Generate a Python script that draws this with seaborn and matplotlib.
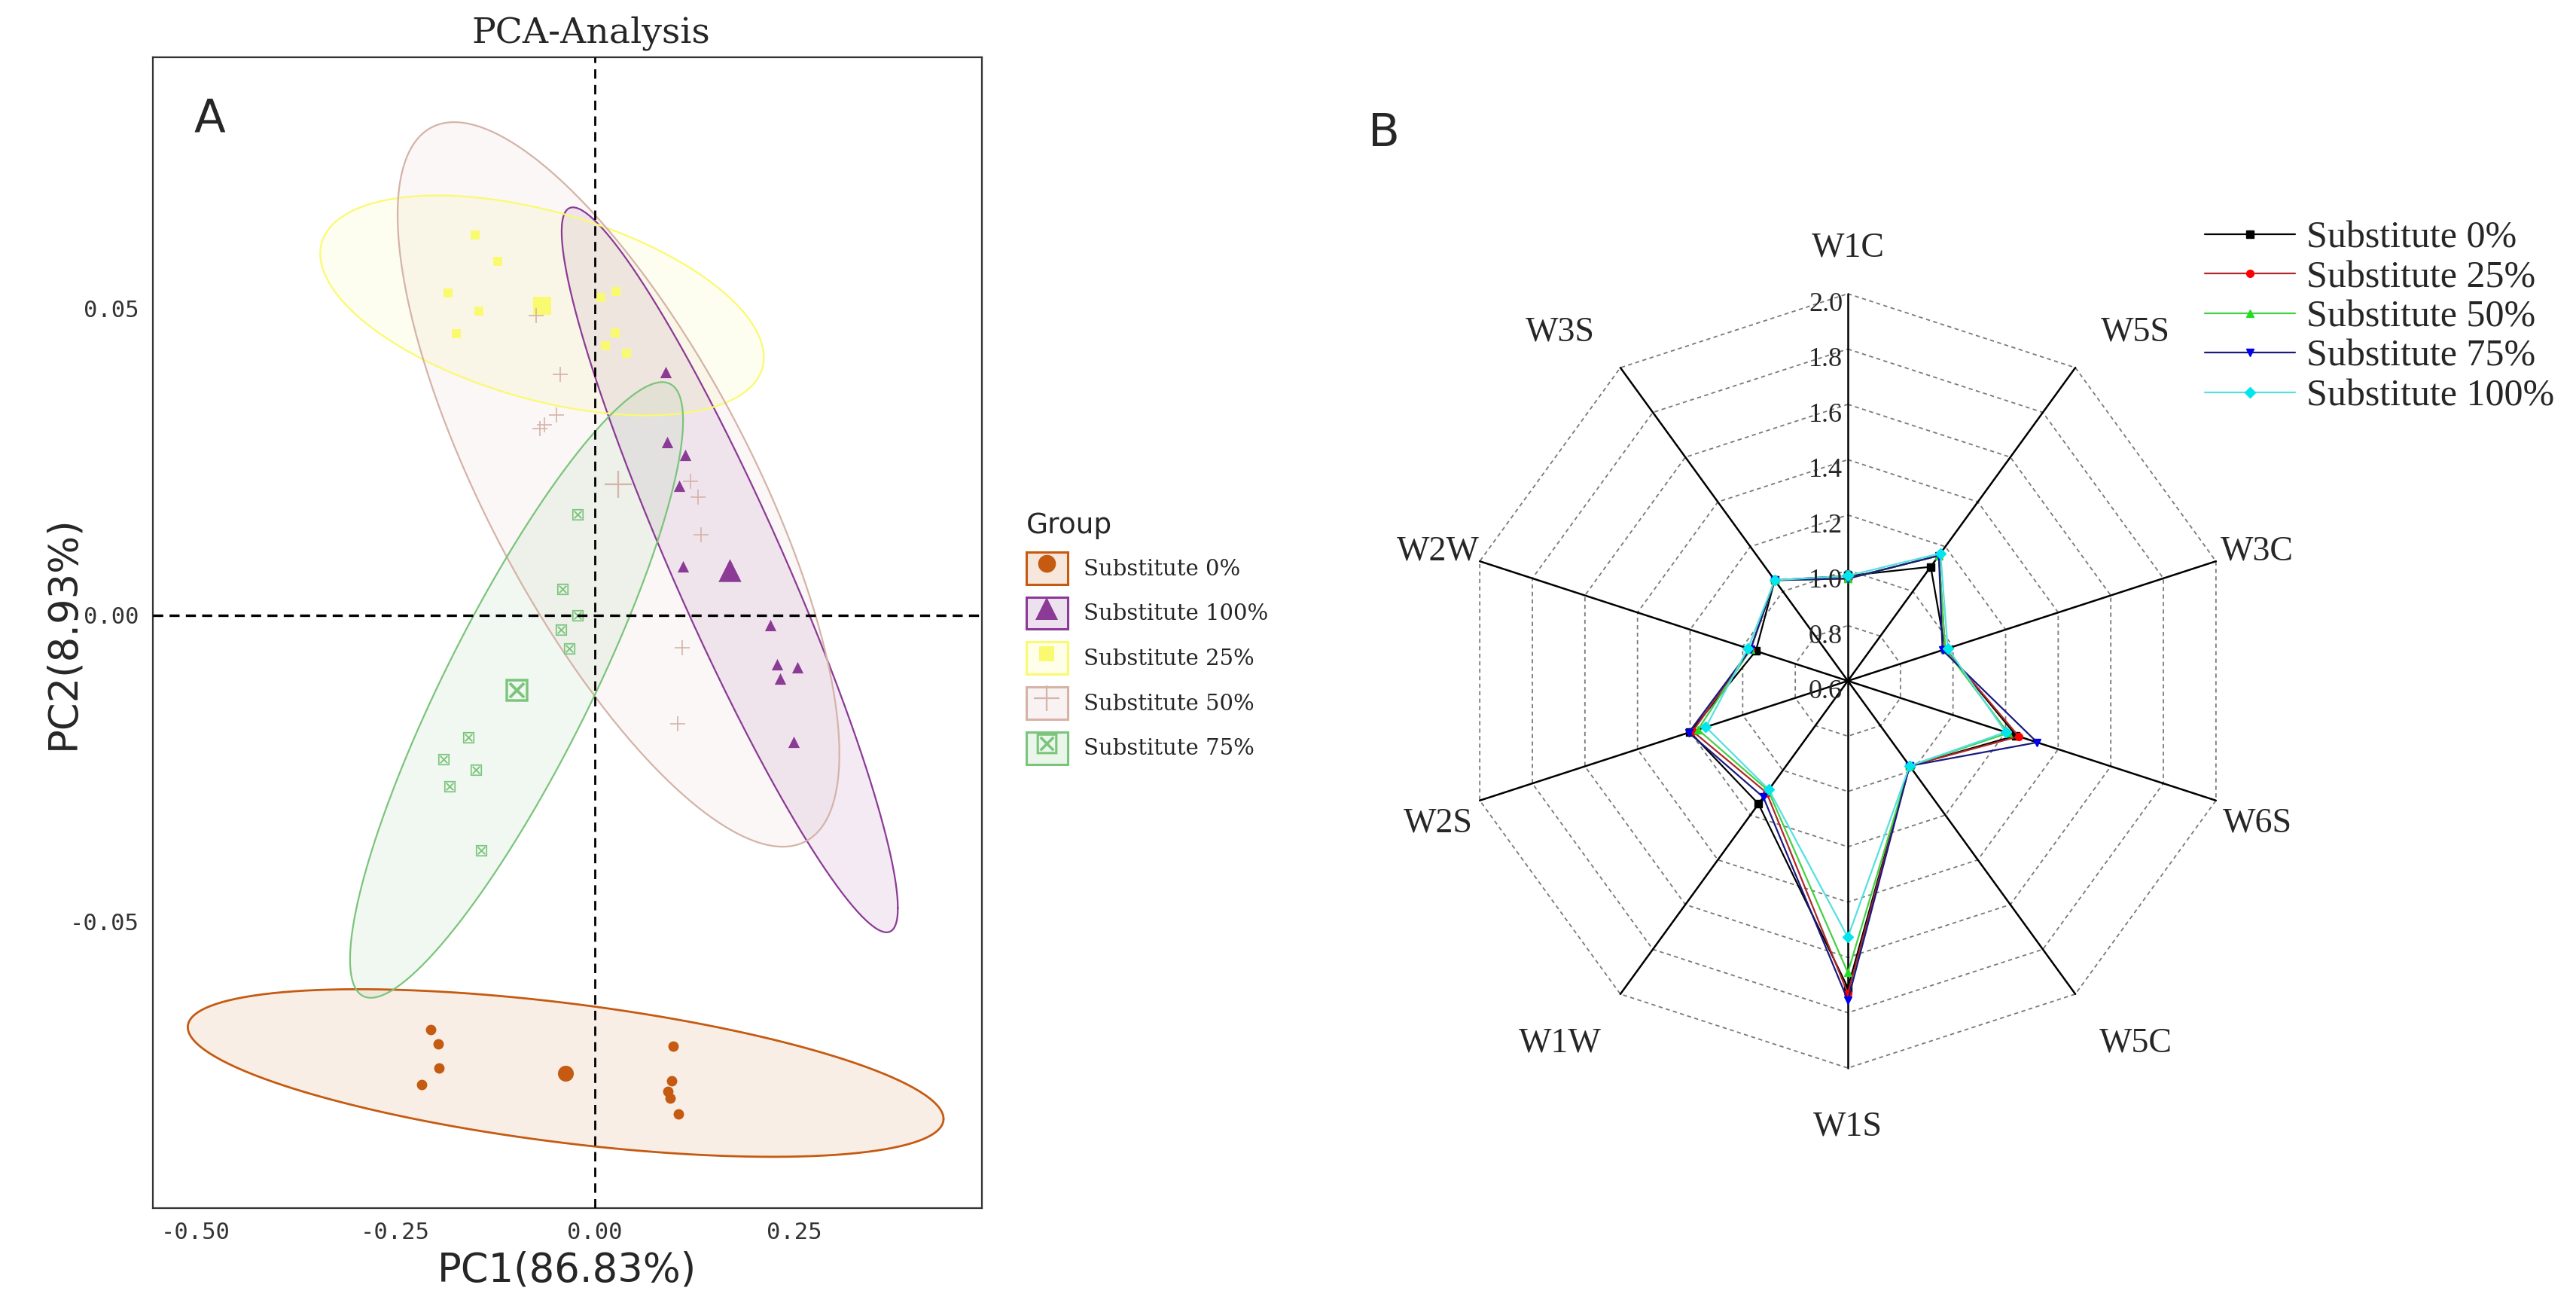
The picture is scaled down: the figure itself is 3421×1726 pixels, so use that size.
import numpy as np
import pandas as pd
import seaborn as sns
import matplotlib
matplotlib.use("Agg")
import matplotlib.pyplot as plt
from matplotlib.patches import Patch
from matplotlib.lines import Line2D
from matplotlib.transforms import offset_copy

# ---------------- data: PCA scores ----------------
groups = ["Substitute 0%", "Substitute 100%", "Substitute 25%",
          "Substitute 50%", "Substitute 75%"]

pc1_s0 = [-0.205, -0.196, -0.195, -0.216, 0.098, 0.097, 0.0915, 0.095, 0.105]
pc2_s0 = [-0.0676, -0.0699, -0.0739, -0.0766, -0.0703, -0.0760, -0.0776, -0.0788, -0.0813]

pc1_s100 = [0.0889, 0.0905, 0.1132, 0.1056, 0.1110, 0.2203, 0.2285, 0.2537, 0.2323, 0.2490]
pc2_s100 = [0.0397, 0.0282, 0.0262, 0.0211, 0.0080, -0.0016, -0.0080, -0.0085, -0.0104, -0.0207]

pc1_s25 = [-0.1496, -0.1212, -0.1836, -0.1448, -0.1726, 0.0268, 0.0079, 0.0259, 0.0133, 0.0401]
pc2_s25 = [0.0620, 0.0577, 0.0526, 0.0496, 0.0459, 0.0528, 0.0518, 0.0461, 0.0440, 0.0427]

pc1_s50 = [-0.0434, -0.0481, -0.0682, -0.0630, -0.0733, 0.1204, 0.1293, 0.1331, 0.1094, 0.1038]
pc2_s50 = [0.0393, 0.0326, 0.0304, 0.0310, 0.0489, 0.0218, 0.0192, 0.0131, -0.0053, -0.0177]

pc1_s75 = [-0.0213, -0.0403, -0.0213, -0.0424, -0.0318, -0.1584, -0.1892, -0.1483, -0.1814, -0.1420]
pc2_s75 = [0.0164, 0.0043, 0.0000, -0.0024, -0.0054, -0.0199, -0.0235, -0.0252, -0.0279, -0.0383]

pc1_label = "PC1(86.83%)"
pc2_label = "PC2(8.93%)"
x_ticks = [-0.50, -0.25, 0.00, 0.25]
y_ticks = [-0.05, 0.00, 0.05]

# ---------------- data: radar (electronic nose sensors) ----------------
sensors = ["W1C", "W5S", "W3C", "W6S", "W5C", "W1S", "W1W", "W2S", "W2W", "W3S"]
radar_series = ["Substitute 0%", "Substitute 25%", "Substitute 50%",
                "Substitute 75%", "Substitute 100%"]
r_s0 = [0.98, 1.11, 0.97, 1.24, 0.98, 1.71, 1.15, 1.20, 0.95, 1.05]
r_s25 = [0.97, 1.16, 0.97, 1.25, 0.98, 1.73, 1.10, 1.19, 0.97, 1.05]
r_s50 = [0.97, 1.16, 0.97, 1.21, 0.98, 1.655, 1.09, 1.17, 0.97, 1.05]
r_s75 = [0.97, 1.16, 0.96, 1.32, 0.98, 1.755, 1.12, 1.205, 0.97, 1.05]
r_s100 = [0.98, 1.17, 0.98, 1.20, 0.98, 1.527, 1.086, 1.14, 0.98, 1.05]
r_ticks = [0.6, 0.8, 1.0, 1.2, 1.4, 1.6, 1.8, 2.0]

pca_df = pd.concat([
    pd.DataFrame({"PC1": pc1_s0, "PC2": pc2_s0, "group": groups[0]}),
    pd.DataFrame({"PC1": pc1_s100, "PC2": pc2_s100, "group": groups[1]}),
    pd.DataFrame({"PC1": pc1_s25, "PC2": pc2_s25, "group": groups[2]}),
    pd.DataFrame({"PC1": pc1_s50, "PC2": pc2_s50, "group": groups[3]}),
    pd.DataFrame({"PC1": pc1_s75, "PC2": pc2_s75, "group": groups[4]}),
], ignore_index=True)

radar_vals = {"Substitute 0%": r_s0, "Substitute 25%": r_s25, "Substitute 50%": r_s50,
              "Substitute 75%": r_s75, "Substitute 100%": r_s100}

# ---------------- styles ----------------
col = {"Substitute 0%": "#C55A11", "Substitute 100%": "#8B3A95",
       "Substitute 25%": "#FAFA70", "Substitute 50%": "#D5B3A8",
       "Substitute 75%": "#7BC47B"}
mk = {"Substitute 0%": "o", "Substitute 100%": "^", "Substitute 25%": "s",
      "Substitute 50%": "+", "Substitute 75%": r"$\boxtimes$"}
pt_size = {"Substitute 0%": 100, "Substitute 100%": 120, "Substitute 25%": 80,
           "Substitute 50%": 200, "Substitute 75%": 120}
cen_size = {"Substitute 0%": 230, "Substitute 100%": 480, "Substitute 25%": 300,
            "Substitute 50%": 700, "Substitute 75%": 480}
leg_ms = {"Substitute 0%": 17, "Substitute 100%": 21, "Substitute 25%": 15,
          "Substitute 50%": 25, "Substitute 75%": 20}

r_line = {"Substitute 0%": "black", "Substitute 25%": "#B02828",
          "Substitute 50%": "#44D044", "Substitute 75%": "#1A1A80",
          "Substitute 100%": "#55E0E0"}
r_face = {"Substitute 0%": "black", "Substitute 25%": "#FF0000",
          "Substitute 50%": "#22DD22", "Substitute 75%": "#0000EE",
          "Substitute 100%": "#00E5EE"}
r_mk = {"Substitute 0%": "s", "Substitute 25%": "o", "Substitute 50%": "^",
        "Substitute 75%": "v", "Substitute 100%": "D"}
# horizontal nudge (pixels) of each sensor name, as Origin places them
name_dx = [0, 39, -11, -11, 39, 0, -39, 11, 11, -39]

sns.set_style("white")
plt.rcParams["font.family"] = ["DejaVu Sans"]

W, H = 3421, 1726
fig = plt.figure(figsize=(W / 100, H / 100), dpi=100)


def px(x0, y0, w, h):
    return [x0 / W, 1 - (y0 + h) / H, w / W, h / H]


def conf_ellipse(x, y, level=0.95, npts=300):
    xy = np.column_stack([x, y])
    n = len(xy)
    mu = xy.mean(axis=0)
    cov = np.cov(xy, rowvar=False)
    d2 = n - 1
    fq = d2 / 2 * ((1 - level) ** (-2 / d2) - 1)   # F(2, n-1) quantile
    rad = np.sqrt(2 * fq)
    t = np.linspace(0, 2 * np.pi, npts)
    circ = np.column_stack([np.cos(t), np.sin(t)])
    L = np.linalg.cholesky(cov)
    pts = mu + rad * circ @ L.T
    return pts[:, 0], pts[:, 1]


# ================= panel A : PCA =================
ax = fig.add_axes(px(203, 76, 1101, 1528))

for g in groups:
    sub = pca_df[pca_df["group"] == g]
    ex, ey = conf_ellipse(sub["PC1"], sub["PC2"])
    ax.fill(ex, ey, color=col[g], alpha=0.1, lw=0, zorder=1)
    ax.plot(ex, ey, color=col[g], lw=2.0 if g == groups[0] else 1.6, zorder=2)

for g in groups:
    sub = pca_df[pca_df["group"] == g]
    lw = 1.2 if mk[g] == "+" else 0
    sns.scatterplot(data=sub, x="PC1", y="PC2", marker=mk[g], color=col[g],
                    s=pt_size[g], linewidth=lw, ax=ax, legend=False, zorder=3)
    cen = sub[["PC1", "PC2"]].mean()
    sns.scatterplot(x=[cen["PC1"]], y=[cen["PC2"]], marker=mk[g], color=col[g],
                    s=cen_size[g], linewidth=1.6 if mk[g] == "+" else 0,
                    ax=ax, legend=False, zorder=3)

ax.axhline(0, color="black", lw=2.4, ls=(0, (4, 2.5)), zorder=4)
ax.axvline(0, color="black", lw=2.0, ls=(0, (4.5, 3)), zorder=4)

ax.set_xlim(-0.553, 0.485)
ax.set_ylim(-0.0967, 0.091)
ax.set_xticks(x_ticks)
ax.set_xticklabels([f"{v:.2f}" for v in x_ticks])
ax.set_yticks(y_ticks)
ax.set_yticklabels([f"{v:.2f}" for v in y_ticks])
ax.set_xlabel("")
ax.set_ylabel("")
ax.tick_params(axis="both", direction="out", length=7, width=1.5, color="#333333",
               labelsize=22, labelcolor="#333333", pad=6)
for lab in ax.get_xticklabels() + ax.get_yticklabels():
    lab.set_family("DejaVu Sans Mono")
for sp in ax.spines.values():
    sp.set_color("#333333")
    sp.set_linewidth(1.6)

fig.text(753 / W, 1 - 1686 / H, pc1_label, ha="center", va="center", fontsize=38)
fig.text(83 / W, 1 - 840 / H, pc2_label, ha="center", va="center", fontsize=38,
         rotation=90)
fig.text(785 / W, 1 - 44 / H, "PCA-Analysis", ha="center", va="center",
         fontsize=34, family="DejaVu Serif")
fig.text(278 / W, 1 - 158 / H, "A", ha="center", va="center", fontsize=44)

handles = []
for g in groups:
    box = Patch(facecolor=matplotlib.colors.to_rgba(col[g], 0.15),
                edgecolor=col[g], lw=2.2)
    m = Line2D([], [], ls="none", marker=mk[g], color=col[g],
               markersize=leg_ms[g], markeredgewidth=1.6 if mk[g] == "+" else 0)
    handles.append((box, m))
leg = fig.legend(handles, groups, loc="upper left",
                 bbox_to_anchor=(1363 / W, 1 - 680 / H), frameon=False,
                 title="Group", title_fontsize=27, alignment="left",
                 prop={"family": "DejaVu Serif", "size": 21},
                 handlelength=1.88, handleheight=1.88, labelspacing=0.58,
                 handletextpad=0.72, borderpad=0, borderaxespad=0)

# ================= panel B : radar =================
R = 514
rax = fig.add_axes(px(2454 - R, 904 - R, 2 * R, 2 * R), projection="polar")
rax.set_theta_zero_location("N")
rax.set_theta_direction(-1)
rax.set_ylim(r_ticks[0], r_ticks[-1])
rax.grid(False)
rax.set_xticks([])
rax.set_yticks([])
rax.spines["polar"].set_visible(False)
rax.set_facecolor("none")

theta = np.linspace(0, 2 * np.pi, len(sensors), endpoint=False)
theta_c = np.append(theta, theta[0])

for rv in r_ticks[1:]:
    rax.plot(theta_c, [rv] * len(theta_c), color="#7A7A7A", lw=1.3,
             ls=(0, (3, 2.5)), zorder=1, clip_on=False)
for th in theta:
    rax.plot([th, th], [r_ticks[0], r_ticks[-1]], color="black", lw=1.8,
             zorder=2, clip_on=False)

for s in radar_series:
    vals = radar_vals[s]
    rax.plot(theta_c, vals + vals[:1], color=r_line[s], lw=1.6, marker=r_mk[s],
             markersize=7, markerfacecolor=r_face[s], markeredgecolor=r_face[s],
             label=s, zorder=3, clip_on=False)

lab_tr = offset_copy(rax.transData, fig=fig, x=-7, y=2, units="dots")
for rv in r_ticks:
    rax.text(0, rv, f"{rv:.1f}", transform=lab_tr, ha="right", va="top",
             fontsize=26, family="Liberation Serif", zorder=5)

lab_r = r_ticks[-1] + (r_ticks[-1] - r_ticks[0]) * 0.135
for th, name, dx in zip(theta, sensors, name_dx):
    tr = offset_copy(rax.transData, fig=fig, x=dx, y=-9, units="dots")
    rax.text(th, lab_r, name, transform=tr, ha="center", va="center",
             fontsize=33, family="Liberation Serif")

fig.text(1838 / W, 1 - 178 / H, "B", ha="center", va="center", fontsize=44)

rl = fig.legend(*rax.get_legend_handles_labels(), loc="upper left",
                bbox_to_anchor=(2928 / W, 1 - 293 / H), frameon=False,
                prop={"family": "Liberation Serif", "size": 36},
                handlelength=2.4, handletextpad=0.3, labelspacing=0.12,
                borderpad=0, borderaxespad=0, numpoints=1)

fig.savefig("out.png", dpi=100)
